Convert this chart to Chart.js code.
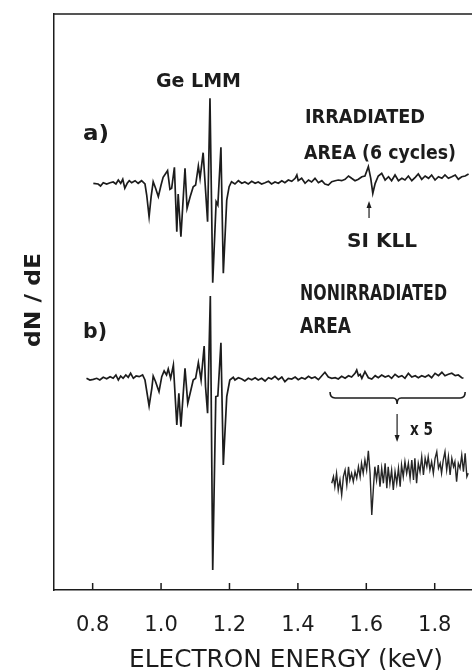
<!DOCTYPE html>
<html>
<head>
<meta charset="utf-8">
<script src="https://cdn.jsdelivr.net/npm/chart.js@4.4.0/dist/chart.umd.min.js"></script>
<style>
  body { margin: 0; background: #fff; }
  canvas { display: block; }
</style>
</head>
<body>
<canvas id="auger" width="472" height="670"></canvas>
<script>
// Auger spectra, dN/dE (arbitrary units, relative to each trace's own baseline)

// a) irradiated area (6 cycles)
const energyA = [
    0.802, 0.816, 0.823, 0.831, 0.841, 0.851, 0.860, 0.868, 0.875, 0.882,
    0.888, 0.894, 0.901, 0.907, 0.914, 0.924, 0.933, 0.943, 0.953, 0.958,
    0.965, 0.971, 0.977, 0.984, 0.992, 1.000, 1.006, 1.019, 1.026, 1.031,
    1.039, 1.046, 1.050, 1.058, 1.070, 1.076, 1.085, 1.094, 1.101, 1.109,
    1.114, 1.123, 1.130, 1.136, 1.143, 1.151, 1.161, 1.166, 1.175, 1.182,
    1.192, 1.199, 1.206, 1.216, 1.226, 1.236, 1.245, 1.255, 1.265, 1.275,
    1.284, 1.294, 1.304, 1.314, 1.323, 1.333, 1.343, 1.353, 1.362, 1.372,
    1.382, 1.392, 1.397, 1.401, 1.411, 1.421, 1.431, 1.440, 1.450, 1.460,
    1.470, 1.479, 1.489, 1.499, 1.509, 1.518, 1.528, 1.538, 1.548, 1.557,
    1.567, 1.577, 1.587, 1.596, 1.606, 1.613, 1.619, 1.626, 1.635, 1.645,
    1.655, 1.665, 1.674, 1.684, 1.694, 1.704, 1.713, 1.723, 1.733, 1.743,
    1.752, 1.762, 1.772, 1.782, 1.791, 1.801, 1.811, 1.821, 1.830, 1.840,
    1.850, 1.860, 1.869, 1.879, 1.889, 1.899
];
const dNdEA = [
    -0.03, -0.10, -0.30, 0.03, -0.10, 0.03, 0.10, -0.10, 0.30, -0.03,
    0.37, -0.53, -0.03, 0.23, 0.03, 0.23, -0.03, 0.23, -0.10, -1.20,
    -3.37, -1.37, 0.13, -0.53, -1.37, -0.20, 0.57, 1.23, -0.63, -0.53,
    1.57, -4.87, -1.10, -5.37, 1.47, -2.53, -1.37, -0.37, -0.20, 1.70,
    0.47, 3.03, -0.70, -3.87, 8.47, -9.97, -1.87, -2.20, 3.57, -9.03,
    -1.70, -0.37, 0.13, -0.10, 0.23, -0.03, 0.10, -0.10, 0.17, -0.03,
    0.10, -0.10, 0.03, 0.17, -0.10, 0.10, -0.03, 0.23, 0.03, 0.30,
    0.17, 0.47, 0.80, 0.23, 0.47, -0.03, 0.30, 0.10, 0.47, 0.03,
    0.23, -0.10, -0.20, 0.13, 0.23, 0.30, 0.23, 0.37, 0.70, 0.47,
    0.23, 0.37, 0.63, 0.70, 1.63, 0.47, -1.03, -0.03, 0.70, 0.97,
    0.30, 0.63, 0.23, 0.80, 0.23, 0.47, 0.30, 0.70, 0.23, 0.57,
    0.90, 0.37, 0.70, 0.47, 0.80, 0.30, 0.63, 0.47, 0.80, 0.47,
    0.63, 0.80, 0.37, 0.63, 0.70, 0.90
];

// b) nonirradiated area
const energyB = [
    0.782, 0.792, 0.802, 0.812, 0.821, 0.831, 0.841, 0.851, 0.860, 0.868,
    0.875, 0.882, 0.889, 0.897, 0.904, 0.911, 0.919, 0.927, 0.936, 0.946,
    0.953, 0.965, 0.973, 0.977, 0.984, 0.994, 1.002, 1.009, 1.016, 1.021,
    1.028, 1.036, 1.046, 1.052, 1.058, 1.070, 1.078, 1.085, 1.094, 1.101,
    1.109, 1.117, 1.126, 1.130, 1.136, 1.144, 1.151, 1.160, 1.166, 1.175,
    1.182, 1.192, 1.201, 1.211, 1.216, 1.226, 1.236, 1.245, 1.255, 1.265,
    1.275, 1.284, 1.294, 1.304, 1.314, 1.323, 1.333, 1.343, 1.353, 1.362,
    1.372, 1.382, 1.392, 1.401, 1.411, 1.421, 1.431, 1.440, 1.450, 1.460,
    1.470, 1.479, 1.489, 1.499, 1.509, 1.518, 1.528, 1.538, 1.548, 1.557,
    1.567, 1.572, 1.577, 1.582, 1.587, 1.596, 1.606, 1.616, 1.626, 1.635,
    1.645, 1.655, 1.665, 1.674, 1.684, 1.694, 1.704, 1.713, 1.723, 1.733,
    1.743, 1.752, 1.762, 1.772, 1.782, 1.791, 1.801, 1.811, 1.821, 1.830,
    1.840, 1.850, 1.860, 1.869, 1.879, 1.884
];
const dNdEB = [
    0.07, -0.10, -0.03, 0.07, -0.10, 0.17, 0.03, 0.23, 0.07, 0.40,
    -0.10, 0.30, 0.07, 0.40, 0.17, 0.57, 0.07, 0.30, 0.23, 0.40,
    -0.10, -2.70, -0.93, 0.30, -0.27, -1.27, 0.23, 0.80, 0.40, 1.00,
    0.07, 1.40, -4.60, -1.43, -4.77, 1.07, -2.43, -1.43, -0.10, 0.07,
    1.63, -0.10, 3.30, -0.77, -3.43, 8.30, -19.10, -1.77, -1.70, 3.63,
    -8.60, -1.77, -0.10, 0.17, -0.10, 0.13, 0.00, -0.20, 0.07, -0.07,
    0.13, -0.10, 0.07, -0.20, 0.13, 0.00, 0.27, -0.07, 0.20, -0.27,
    0.07, 0.00, 0.20, -0.07, 0.13, 0.00, 0.27, 0.07, 0.20, -0.07,
    0.33, 0.67, 0.20, 0.07, 0.13, 0.00, 0.27, 0.07, 0.33, 0.20,
    0.57, 0.90, 0.33, 0.47, 0.07, 0.73, 0.13, 0.00, 0.33, 0.13,
    0.40, 0.20, 0.33, 0.07, 0.47, 0.20, 0.33, 0.07, 0.57, 0.20,
    0.33, 0.13, 0.33, 0.20, 0.40, 0.13, 0.57, 0.33, 0.67, 0.33,
    0.47, 0.57, 0.33, 0.40, 0.13, 0.07
];

// b) x5 magnification of the 1.5 - 1.9 keV range
const energyX5 = [
    1.499, 1.504, 1.508, 1.513, 1.518, 1.523, 1.528, 1.533, 1.538, 1.543,
    1.548, 1.552, 1.557, 1.562, 1.567, 1.572, 1.577, 1.582, 1.586, 1.591,
    1.596, 1.601, 1.606, 1.611, 1.616, 1.621, 1.625, 1.630, 1.635, 1.640,
    1.645, 1.650, 1.655, 1.660, 1.664, 1.669, 1.674, 1.679, 1.684, 1.689,
    1.694, 1.699, 1.703, 1.708, 1.713, 1.718, 1.723, 1.728, 1.733, 1.738,
    1.742, 1.747, 1.752, 1.757, 1.762, 1.767, 1.772, 1.777, 1.781, 1.786,
    1.791, 1.796, 1.801, 1.806, 1.811, 1.816, 1.820, 1.825, 1.830, 1.835,
    1.840, 1.845, 1.850, 1.855, 1.859, 1.864, 1.869, 1.874, 1.879, 1.884,
    1.889, 1.894, 1.898
];
const dNdEX5 = [
    -0.03, 0.63, -0.37, 0.97, -0.70, 0.30, -1.20, 0.63, 1.30, -0.20,
    1.63, 0.30, 0.97, 0.13, 1.13, 0.47, 1.63, 0.63, 1.97, 0.97,
    2.30, 1.30, 3.23, 0.97, -3.20, -0.37, 1.63, 0.30, 1.80, -0.37,
    1.47, -0.03, 1.97, -0.53, 1.63, -0.03, 1.30, -0.70, 1.13, -0.03,
    1.47, -0.37, 1.80, 0.63, 2.13, 0.97, 1.97, 0.47, 2.30, 0.30,
    2.47, -0.03, 1.97, 1.13, 2.63, 0.80, 2.47, 1.63, 2.63, 1.30,
    2.13, 0.97, 2.47, 3.13, 1.47, 1.97, 0.97, 2.30, 3.13, 1.30,
    2.63, 0.80, 2.47, 1.63, 2.13, 0.13, 1.97, 1.47, 2.80, 1.13,
    2.97, 0.63, 0.97
];

// vertical offsets of the stacked traces
const offsetA = 40.7;
const offsetB = 21.1;
const offsetX5 = 10.7;

const TICKS_X = [0.8, 1.0, 1.2, 1.4, 1.6, 1.8];
const INK = '#1c1c1c';

function toPoints(xs, ys, offset) {
    return xs.map((e, i) => ({x: e, y: ys[i] + offset}));
}

// text squeezed / stretched to the lettering width of the original figure
function fitText(ctx, text, left, cy, width, size, weight) {
    ctx.save();
    ctx.font = weight + ' ' + size + 'px "DejaVu Sans"';
    ctx.textBaseline = 'alphabetic';
    ctx.textAlign = 'left';
    const w = ctx.measureText(text).width;
    ctx.translate(left, cy + size * 0.365);
    ctx.scale(width / w, 1);
    ctx.fillText(text, 0, 0);
    ctx.restore();
}

function arrow(ctx, x, y0, y1) {
    // shaft from y0 to y1, head at y1
    const dir = y1 > y0 ? 1 : -1;
    ctx.beginPath();
    ctx.moveTo(x, y0);
    ctx.lineTo(x, y1 - dir * 4);
    ctx.stroke();
    ctx.beginPath();
    ctx.moveTo(x, y1);
    ctx.lineTo(x - 2.5, y1 - dir * 7);
    ctx.lineTo(x + 2.5, y1 - dir * 7);
    ctx.closePath();
    ctx.fill();
}

const decorations = {
    id: 'decorations',
    afterDraw(chart) {
        const ctx = chart.ctx;
        const xs = chart.scales.x;
        const area = chart.chartArea;
        ctx.save();
        ctx.strokeStyle = INK;
        ctx.fillStyle = INK;
        ctx.lineWidth = 1.5;

        // top frame line
        ctx.beginPath();
        ctx.moveTo(area.left, area.top);
        ctx.lineTo(area.right, area.top);
        ctx.stroke();

        // inward tick marks
        for (const v of TICKS_X) {
            const px = xs.getPixelForValue(v);
            ctx.beginPath();
            ctx.moveTo(px, area.bottom);
            ctx.lineTo(px, area.bottom - 7);
            ctx.stroke();
        }

        // axis titles
        fitText(ctx, 'ELECTRON ENERGY (keV)', 129, 658, 314, 24, 'normal');
        ctx.save();
        ctx.translate(32, 300);
        ctx.rotate(-Math.PI / 2);
        fitText(ctx, 'dN / dE', -47, 0, 94, 22, 'bold');
        ctx.restore();

        // labels
        fitText(ctx, 'Ge LMM', 156, 80, 85, 19, 'bold');
        fitText(ctx, 'a)', 83, 132, 26, 21, 'bold');
        fitText(ctx, 'IRRADIATED', 305, 116, 120, 20, 'bold');
        fitText(ctx, 'AREA (6 cycles)', 304, 152, 152, 20, 'bold');
        fitText(ctx, 'SI KLL', 347, 240, 70, 19, 'bold');
        fitText(ctx, 'NONIRRADIATED', 300, 292, 147, 21, 'bold');
        fitText(ctx, 'AREA', 300, 325, 51, 21, 'bold');
        fitText(ctx, 'b)', 83, 330, 24, 21, 'bold');
        fitText(ctx, 'x 5', 410, 428, 23, 18, 'bold');

        // Si KLL arrow
        ctx.lineWidth = 1.2;
        arrow(ctx, xs.getPixelForValue(1.608), 218, 201);

        // brace over the magnified range and the x5 arrow
        const bl = xs.getPixelForValue(1.494);
        const br = xs.getPixelForValue(1.889);
        const bm = xs.getPixelForValue(1.69);
        ctx.lineWidth = 1.6;
        ctx.beginPath();
        ctx.moveTo(bl, 392);
        ctx.quadraticCurveTo(bl, 398, bl + 5, 398);
        ctx.lineTo(bm - 4, 398);
        ctx.quadraticCurveTo(bm, 398, bm, 404);
        ctx.quadraticCurveTo(bm, 398, bm + 4, 398);
        ctx.lineTo(br - 5, 398);
        ctx.quadraticCurveTo(br, 398, br, 392);
        ctx.stroke();
        ctx.lineWidth = 1.2;
        arrow(ctx, bm, 414, 442);

        ctx.restore();
    }
};

const ctx = document.getElementById('auger').getContext('2d');
new Chart(ctx, {
    type: 'line',
    data: {
        datasets: [
            {
                label: 'a) irradiated',
                data: toPoints(energyA, dNdEA, offsetA),
                borderColor: INK,
                borderWidth: 1.7
            },
            {
                label: 'b) nonirradiated',
                data: toPoints(energyB, dNdEB, offsetB),
                borderColor: INK,
                borderWidth: 1.7
            },
            {
                label: 'b) x5',
                data: toPoints(energyX5, dNdEX5, offsetX5),
                borderColor: '#262626',
                borderWidth: 1.4
            }
        ]
    },
    options: {
        responsive: false,
        animation: false,
        devicePixelRatio: 1,
        elements: {
            line: {tension: 0, fill: false},
            point: {radius: 0}
        },
        layout: {padding: {top: 14, right: 0, left: 0, bottom: 0}},
        plugins: {legend: {display: false}, tooltip: {enabled: false}},
        scales: {
            x: {
                type: 'linear',
                min: 0.687,
                max: 1.909,
                afterBuildTicks: s => { s.ticks = TICKS_X.map(v => ({value: v})); },
                afterFit: s => { s.height = 80; },
                grid: {display: false},
                border: {display: true, color: INK, width: 1.5},
                ticks: {
                    color: INK,
                    padding: 15,
                    maxRotation: 0,
                    font: {family: 'DejaVu Sans', size: 21},
                    callback: v => v.toFixed(1)
                }
            },
            y: {
                type: 'linear',
                min: 0,
                max: 57.6,
                afterFit: s => { s.width = 54; },
                grid: {display: false},
                border: {display: true, color: INK, width: 1.5},
                ticks: {display: false}
            }
        }
    },
    plugins: [decorations]
});
</script>
</body>
</html>
